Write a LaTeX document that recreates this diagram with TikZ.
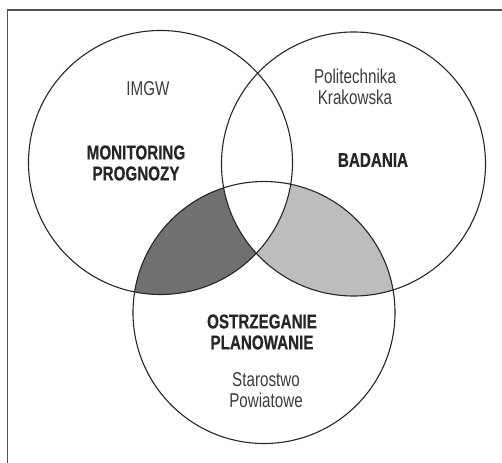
\documentclass[tikz,border=0pt]{standalone}
\usepackage{fontspec}
\setmainfont[FakeStretch=0.76, BoldFeatures={FakeBold=0.6}]{Liberation Sans}
\usepackage{xcolor}
\usepackage{tikz}
\usetikzlibrary{positioning,calc}

\definecolor{darkfill}{HTML}{707070}
\definecolor{lightfill}{HTML}{BDBDBD}
\definecolor{inkgray}{HTML}{262626}

\tikzset{
    ring/.style={draw=inkgray, line width=1.1pt},
    area/.style={font=\fontsize{20}{21}\selectfont\bfseries, align=center, text=inkgray},
    body/.style={font=\fontsize{20}{21}\selectfont, align=center, text=inkgray!90}
}

\begin{document}
\begin{tikzpicture}[x=1pt, y=-1pt]
    \useasboundingbox (0,0) rectangle (502,462);

    % Frame
    \draw[draw=inkgray!80, line width=1.3pt] (7.5,470) -- (7.5,10) -- (510,10);

    % Centres
    \coordinate (monit) at (160.5,162.5);
    \coordinate (badan) at (353.5,164);
    \coordinate (ostrz) at (264,312.5);

    % Shaded overlaps
    \begin{scope}
        \clip (ostrz) circle [radius=131pt];
        \fill[darkfill] (monit) circle [radius=132pt];
        \fill[lightfill] (badan) circle [radius=132pt];
        \clip (monit) circle [radius=132pt];
        \fill[white] (badan) circle [radius=132pt];
    \end{scope}

    % Circles
    \draw[ring] (monit) circle [radius=132pt];
    \draw[ring] (badan) circle [radius=132pt];
    \draw[ring] (ostrz) circle [radius=131pt];

    % Labels
    \node[body] (imgw) at (148,89) {IMGW};
    \node[area] (monitoring) at (136,163) {MONITORING\\PROGNOZY};
    \node[body] (pk) at (355,87) {Politechnika\\Krakowska};
    \node[area] (badania) at (373,160) {BADANIA};
    \node[area] (ostrzeganie) at (262,332) {OSTRZEGANIE\\PLANOWANIE};
    \node[body] (starostwo) at (266,390) {Starostwo\\Powiatowe};
\end{tikzpicture}
\end{document}
